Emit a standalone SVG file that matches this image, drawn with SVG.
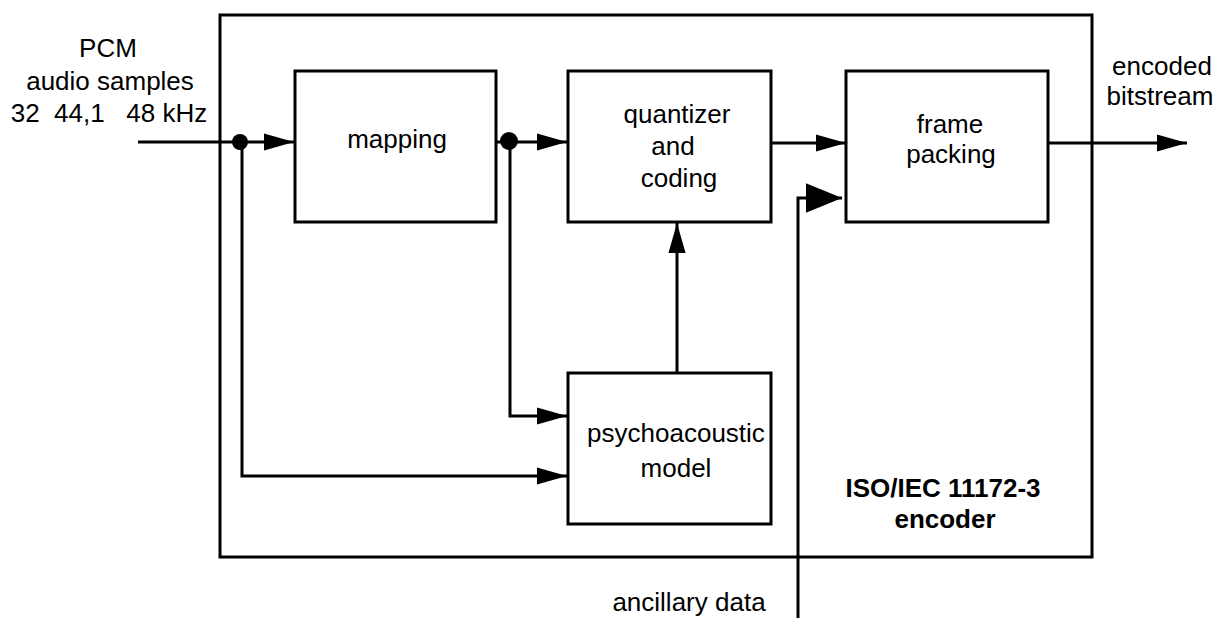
<svg xmlns="http://www.w3.org/2000/svg" width="1219" height="618" viewBox="0 0 1219 618">
<defs>
<style>
.box{fill:none;stroke:#000;stroke-width:3}
.ln{fill:none;stroke:#000;stroke-width:3}
text{font-family:"Liberation Sans",Arial,sans-serif;font-size:26px;fill:#000;text-anchor:middle}
.b{font-weight:bold}
.pre{white-space:pre}
</style>
<marker id="ah" markerUnits="userSpaceOnUse" markerWidth="30" markerHeight="18" refX="28" refY="8" orient="auto" viewBox="0 0 28 16">
<path d="M0,0 L28,8 L0,16 Z" fill="#000"/>
</marker>
<marker id="ahb" markerUnits="userSpaceOnUse" markerWidth="36" markerHeight="30" refX="34" refY="14" orient="auto" viewBox="0 0 34 28">
<path d="M0,0 L34,14 L0,28 Z" fill="#000"/>
</marker>
</defs>
<rect width="1219" height="618" fill="#fff"/>
<g id="encoder">
<rect class="box" x="220" y="15" width="872" height="542"/>
<text class="b" x="943" y="497">ISO/IEC 11172-3</text>
<text class="b" x="945" y="528">encoder</text>
</g>
<g id="mapping">
<rect class="box" x="295" y="71" width="201" height="151"/>
<text x="397" y="148">mapping</text>
</g>
<g id="quantizer">
<rect class="box" x="568" y="71" width="203" height="151"/>
<text x="677" y="123">quantizer</text>
<text x="673" y="155">and</text>
<text x="679" y="187">coding</text>
</g>
<g id="framepacking">
<rect class="box" x="846" y="71" width="202" height="151"/>
<text x="950" y="133">frame</text>
<text x="951" y="163">packing</text>
</g>
<g id="psycho">
<rect class="box" x="568" y="373" width="203" height="151"/>
<text x="676" y="442">psychoacoustic</text>
<text x="676" y="477">model</text>
</g>
<g id="labels">
<text x="108" y="57">PCM</text>
<text x="110" y="90">audio samples</text>
<text class="pre" xml:space="preserve" x="109" y="122">32  44,1   48 kHz</text>
<text x="1162" y="75">encoded</text>
<text x="1160" y="105">bitstream</text>
<text x="689" y="611">ancillary data</text>
</g>
<g id="connectors">
<path class="ln" d="M138,142 H294" marker-end="url(#ah)"/>
<path class="ln" d="M496,142 H567" marker-end="url(#ah)"/>
<path class="ln" d="M771,143 H846" marker-end="url(#ah)"/>
<path class="ln" d="M1048,143 H1187" marker-end="url(#ah)"/>
<path class="ln" d="M242,142 V476 H567" marker-end="url(#ah)"/>
<path class="ln" d="M510,142 V416 H567" marker-end="url(#ah)"/>
<path class="ln" d="M677,373 V223" marker-end="url(#ah)"/>
<path class="ln" d="M798,618 V198 H842" marker-end="url(#ahb)"/>
<circle cx="240" cy="142" r="8" fill="#000"/>
<circle cx="509" cy="141" r="9" fill="#000"/>
</g>
</svg>
